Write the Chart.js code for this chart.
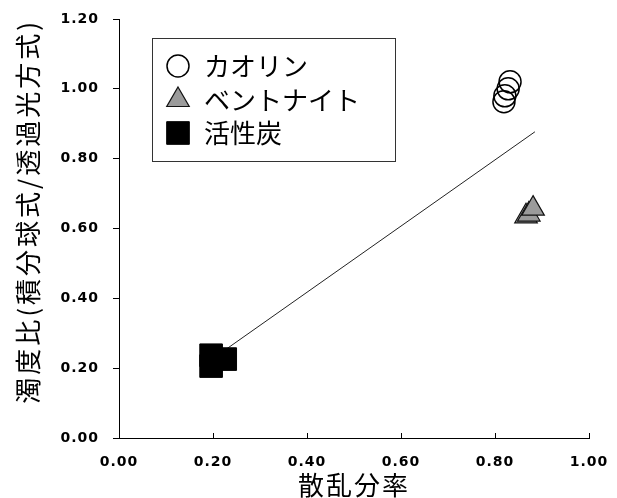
<!DOCTYPE html>
<html>
<head>
<meta charset="utf-8">
<script src="https://cdn.jsdelivr.net/npm/chart.js@4"></script>
<style>
  html, body { margin: 0; padding: 0; background: #fff; }
  #wrap { width: 617px; height: 498px; }
</style>
</head>
<body>
<div id="wrap"><canvas id="c" width="617" height="498"></canvas></div>
<script>
// Series names (legend order)
const seriesNames = ['カオリン', 'ベントナイト', '活性炭'];

// Kaolin
const kaolinX = [0.832, 0.828, 0.821, 0.819];
const kaolinY = [1.020, 1.000, 0.980, 0.963];

// Bentonite
const bentoniteX = [0.866, 0.872, 0.881];
const bentoniteY = [0.635, 0.640, 0.657];

// Activated carbon
const carbonX = [0.196, 0.196, 0.226];
const carbonY = [0.237, 0.206, 0.226];

// Fitted line end points
const trendX = [0.196, 0.885];
const trendY = [0.224, 0.877];

// Axis ranges and tick step
const xRange = [0, 1.0];
const yRange = [0, 1.2];
const tickStep = 0.2;

const xTitle = '散乱分率';
const yTitle = '濁度比(積分球式/透過光方式)';

const pts = (xs, ys) => xs.map((x, i) => ({ x: x, y: ys[i] }));

const CJK = '"Noto Sans CJK JP", "Noto Sans CJK SC", sans-serif';
const TICK_FONT = { family: '"DejaVu Sans", Verdana, sans-serif', size: 14, weight: 'bold' };

// Marker styles, shared by the datasets and the legend
const markerStyles = [
  { pointStyle: 'circle',   radius: 11, fill: 'rgba(0,0,0,0)', stroke: '#000', width: 1.5 },
  { pointStyle: 'triangle', radius: 13, fill: '#9b9b9b',       stroke: '#111', width: 1.2 },
  { pointStyle: 'rect',     radius: 16, fill: '#000',          stroke: '#000', width: 1 }
];

function drawMarker(ctx, s, x, y) {
  ctx.save();
  ctx.beginPath();
  const r = s.radius;
  if (s.pointStyle === 'circle') {
    ctx.arc(x, y, r, 0, Math.PI * 2);
  } else if (s.pointStyle === 'triangle') {
    let a = 0;
    ctx.moveTo(x + Math.sin(a) * r, y - Math.cos(a) * r);
    a += Math.PI * 2 / 3;
    ctx.lineTo(x + Math.sin(a) * r, y - Math.cos(a) * r);
    a += Math.PI * 2 / 3;
    ctx.lineTo(x + Math.sin(a) * r, y - Math.cos(a) * r);
    ctx.closePath();
  } else {
    const h = Math.SQRT1_2 * r;
    ctx.rect(x - h, y - h, 2 * h, 2 * h);
  }
  ctx.fillStyle = s.fill;
  ctx.fill();
  ctx.lineWidth = s.width;
  ctx.strokeStyle = s.stroke;
  ctx.stroke();
  ctx.restore();
}

// Boxed legend inside the plot area
const boxedLegend = {
  id: 'boxedLegend',
  afterDatasetsDraw(chart) {
    const ctx = chart.ctx;
    const bx = 152.5, by = 38.5, bw = 243, bh = 123;
    ctx.save();
    ctx.fillStyle = '#fff';
    ctx.fillRect(bx, by, bw, bh);
    ctx.strokeStyle = '#333';
    ctx.lineWidth = 1;
    ctx.strokeRect(bx, by, bw, bh);
    const rows = [66, 100, 133];
    seriesNames.forEach((name, i) => {
      drawMarker(ctx, markerStyles[i], 178, rows[i]);
      ctx.fillStyle = '#000';
      ctx.font = '26px ' + CJK;
      ctx.textAlign = 'left';
      ctx.textBaseline = 'middle';
      ctx.fillText(name, 204, rows[i]);
    });
    ctx.restore();
  }
};

// Extra letter spacing for tick labels and axis titles
const spacedText = {
  id: 'spacedText',
  afterUpdate(chart) {
    Object.values(chart.scales).forEach(sc => {
      if (sc._spacedPatched) return;
      sc._spacedPatched = true;
      const origLabels = sc.drawLabels;
      const origTitle = sc.drawTitle;
      sc.drawLabels = function () {
        const prev = this.ctx.letterSpacing;
        this.ctx.letterSpacing = '1px';
        origLabels.apply(this, arguments);
        this.ctx.letterSpacing = prev || '0px';
      };
      sc.drawTitle = function () {
        const prev = this.ctx.letterSpacing;
        this.ctx.letterSpacing = this.axis === 'y' ? '3px' : '2px';
        origTitle.apply(this, arguments);
        this.ctx.letterSpacing = prev || '0px';
      };
    });
  }
};

const axisCommon = {
  type: 'linear',
  ticks: {
    stepSize: tickStep,
    color: '#000',
    font: TICK_FONT,
    callback: v => Number(v).toFixed(2)
  },
  border: { display: true, color: '#000', width: 1 }
};

new Chart(document.getElementById('c'), {
  type: 'scatter',
  data: {
    datasets: [
      {
        label: seriesNames[0],
        data: pts(kaolinX, kaolinY),
        pointStyle: 'circle',
        pointRadius: markerStyles[0].radius,
        pointHoverRadius: markerStyles[0].radius,
        backgroundColor: markerStyles[0].fill,
        borderColor: markerStyles[0].stroke,
        borderWidth: markerStyles[0].width
      },
      {
        label: seriesNames[1],
        data: pts(bentoniteX, bentoniteY),
        pointStyle: 'triangle',
        pointRadius: markerStyles[1].radius,
        pointHoverRadius: markerStyles[1].radius,
        backgroundColor: markerStyles[1].fill,
        borderColor: markerStyles[1].stroke,
        borderWidth: markerStyles[1].width
      },
      {
        label: seriesNames[2],
        data: pts(carbonX, carbonY),
        pointStyle: 'rect',
        pointRadius: markerStyles[2].radius,
        pointHoverRadius: markerStyles[2].radius,
        backgroundColor: markerStyles[2].fill,
        borderColor: markerStyles[2].stroke,
        borderWidth: markerStyles[2].width
      },
      {
        label: 'fit',
        type: 'line',
        data: pts(trendX, trendY),
        showLine: true,
        pointRadius: 0,
        borderColor: '#222',
        borderWidth: 1,
        fill: false
      }
    ]
  },
  options: {
    responsive: false,
    animation: false,
    devicePixelRatio: 1,
    layout: { padding: { left: 0, right: 28, top: 19, bottom: 0 } },
    plugins: {
      legend: { display: false },
      tooltip: { enabled: false }
    },
    scales: {
      x: Object.assign({}, axisCommon, {
        position: 'bottom',
        min: xRange[0], max: xRange[1],
        ticks: Object.assign({}, axisCommon.ticks, { padding: 21, maxRotation: 0 }),
        grid: { display: true, drawOnChartArea: false, drawTicks: true, tickLength: -5, color: '#000' },
        title: {
          display: true, text: xTitle, color: '#000',
          font: { family: CJK, size: 26, lineHeight: 1.0 },
          padding: { top: 0, bottom: 0 }
        },
        afterFit(sc) {
          sc.height = 60;
          sc.paddingLeft = 0;
          sc.paddingRight = 0;
        }
      }),
      y: Object.assign({}, axisCommon, {
        position: 'left',
        min: yRange[0], max: yRange[1],
        ticks: Object.assign({}, axisCommon.ticks, { padding: 14 }),
        grid: { display: true, drawOnChartArea: false, drawTicks: true, tickLength: 6, color: '#000' },
        title: {
          display: true, text: yTitle, color: '#000', align: 'end',
          font: { family: CJK, size: 26, lineHeight: 1.0 },
          padding: { top: 15, bottom: 0 }
        },
        afterFit(sc) {
          sc.width = 119;
          sc.paddingTop = 0;
          sc.paddingBottom = 0;
        }
      })
    }
  },
  plugins: [spacedText, boxedLegend]
});
</script>
</body>
</html>
